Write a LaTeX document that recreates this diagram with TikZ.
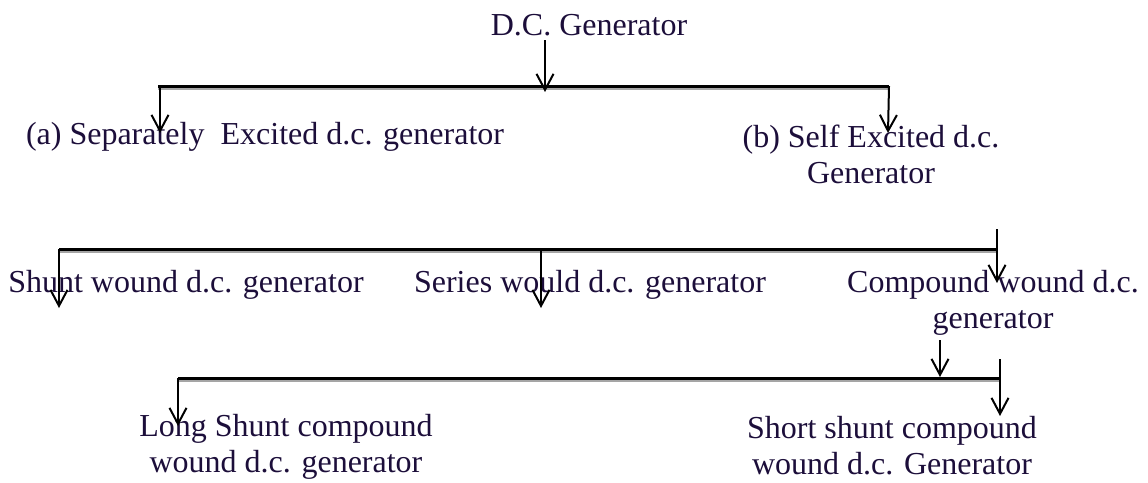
\documentclass[tikz,border=0pt]{standalone}
\usepackage{fontspec}
\setmainfont{Liberation Serif}
\usetikzlibrary{arrows.meta}
\definecolor{txtc}{RGB}{28,14,58}
\definecolor{shadowc}{RGB}{165,165,165}
\tikzset{
  lbl/.style={text=txtc, font=\fontsize{32}{36}\selectfont, inner sep=0pt, align=center},
  arr/.style={draw=black, line width=2pt, -{Straight Barb[length=16pt,width=17pt,line width=2pt]}},
  bus/.style={draw=black, line width=3pt},
  busshadow/.style={draw=shadowc, line width=2.5pt},
}
\begin{document}
\begin{tikzpicture}[x=1pt,y=-1pt]
\useasboundingbox (0,0) rectangle (1148,482);
% texts
\node[lbl] (gen) at (589,25) {D.C. Generator};
\node[lbl] (sep) at (265,137) {(a) Separately\ \ Excited d.c. generator};
\node[lbl] (self) at (871,154) {(b) Self Excited d.c.\\Generator};
\node[lbl] (shunt) at (186,285) {Shunt wound d.c. generator};
\node[lbl] (series) at (590,285) {Series would d.c. generator};
\node[lbl] (comp) at (993,303) {Compound wound d.c.\\generator};
\node[lbl] (long) at (286,447) {Long Shunt compound\\wound d.c. generator};
\node[lbl] (short) at (892,446) {Short shunt compound\\wound d.c. Generator};
% coordinates
\coordinate (a0) at (545,40);
\coordinate (a1) at (545,92);
\coordinate (b1l) at (158,86);
\coordinate (b1r) at (889,86);
\coordinate (d1l) at (160,133);
\coordinate (d1r) at (888,133);
\coordinate (b2l) at (59,249);
\coordinate (b2r) at (997,249);
\coordinate (b2m) at (541,249);
\coordinate (b2t) at (997,229);
\coordinate (d2l) at (59,308);
\coordinate (d2m) at (541,308);
\coordinate (d2r) at (997,283);
\coordinate (b3l) at (178,378);
\coordinate (b3r) at (1000,378);
\coordinate (a3t) at (940,340);
\coordinate (a3b) at (940,377);
\coordinate (b3t) at (1000,359);
\coordinate (d3r) at (1000,416);
\coordinate (d3l) at (178,426);
% buses with shadow
\draw[busshadow] ([yshift=-3pt]b1l) -- ([yshift=-3pt]b1r);
\draw[bus] (b1l) -- (b1r);
\draw[busshadow] ([yshift=-3pt]b2l) -- ([yshift=-3pt]b2r);
\draw[bus] (b2l) -- (b2r);
\draw[busshadow] ([yshift=-3pt]b3l) -- ([yshift=-3pt]b3r);
\draw[bus] (b3l) -- (b3r);
% arrows
\draw[arr] (a0) -- (a1);
\draw[arr] ([xshift=2pt]b1l) -- (d1l);
\draw[arr] (b1r) -- (d1r);
\draw[arr] (b2t) -- (d2r);
\draw[arr] (b2l) -- (d2l);
\draw[arr] (b2m) -- (d2m);
\draw[arr] (a3t) -- (a3b);
\draw[arr] (b3t) -- (d3r);
\draw[arr] (b3l) -- (d3l);
\end{tikzpicture}
\end{document}
